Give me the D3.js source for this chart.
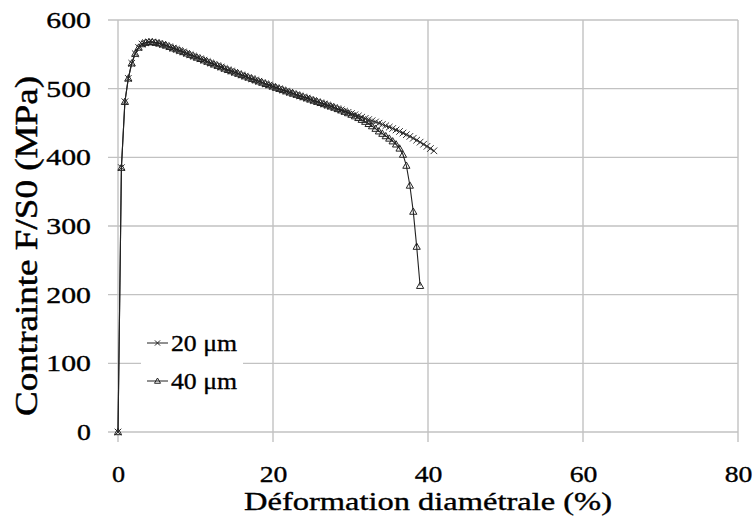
<!DOCTYPE html>
<html><head><meta charset="utf-8">
<script src="https://cdn.jsdelivr.net/npm/d3@7"></script>
<style>html,body{margin:0;padding:0;background:#fff}svg{display:block}</style>
</head><body>
<script>
// ---- data ----
const strain = [0,0.44,0.89,1.33,1.77,2.22,2.66,3.10,3.54,3.99,4.43,4.87,5.32,5.76,6.20,6.65,7.09,7.53,7.97,8.42,8.86,9.30,9.75,10.19,10.63,11.08,11.52,11.96,12.40,12.85,13.29,13.73,14.18,14.62,15.06,15.51,15.95,16.39,16.83,17.28,17.72,18.16,18.61,19.05,19.49,19.94,20.38,20.82,21.26,21.71,22.15,22.59,23.04,23.48,23.92,24.37,24.81,25.25,25.69,26.14,26.58,27.02,27.47,27.91,28.35,28.80,29.24,29.68,30.12,30.57,31.01,31.45,31.90,32.34,32.78,33.23,33.67,34.11,34.55,35.00,35.44,35.88,36.33,36.77,37.21,37.66,38.10,38.54,38.98,39.43,39.87,40.31,40.76];
const stress20 = [0,385,481,515,537,551,560,565,567,568,568,567,566,564.5,563,561,559,557.5,555.5,553.5,551.5,549.5,547.5,545.5,543.5,541.5,539.5,537.5,535.5,533.5,531.5,529.5,527.5,525.7,523.8,522,520,518.2,516.4,514.5,512.6,510.8,509,507.1,505.3,503.4,501.6,499.9,498.2,496.4,494.7,493,491.3,489.6,487.9,486.2,484.5,482.8,481.1,479.4,477.7,476,474.3,472.6,470.8,469.1,467.3,465.5,463.7,462,460.2,458.5,456.7,455,453.3,451.5,449.7,447.9,446,444,442,439.9,437.7,435.4,433,430.5,427.8,425,422.1,419.1,416,412.8,409.5];
const stress40 = [0,385,481,515,537,551,560,565,567,568,568,567,566,564.5,563,561,559,557.5,555.5,553.5,551.5,549.5,547.5,545.5,543.5,541.5,539.5,537.5,535.5,533.5,531.5,529.5,527.5,525.7,523.8,522,520,518.2,516.4,514.5,512.6,510.8,509,507.1,505.3,503.4,501.6,499.9,498.2,496.4,494.7,493,491.3,489.6,487.9,486.2,484.5,482.8,481.1,479.4,477.7,476,474.3,472.6,470.5,468.6,466.6,464.5,462.3,460,457.5,454.8,452,448.8,445.5,441.8,438,434.5,431,427.5,423.5,419,413,404,388,359,321,270,213];
const seriesNames = ["20 μm","40 μm"];
const xTicks = [0,20,40,60,80];
const yTicks = [0,100,200,300,400,500,600];
const xTitle = "Déformation diamétrale (%)";
const yTitle = "Contrainte F/S0 (MPa)";

// ---- drawing ----
const W = 756, H = 522;
const FONT = "'Liberation Serif', 'Times New Roman', serif";
const svg = d3.select("body").append("svg").attr("width", W).attr("height", H);
const x = d3.scaleLinear().domain([0, 80]).range([118, 738]);
const y = d3.scaleLinear().domain([0, 600]).range([432, 20]);
const gridCol = "#c2c2c2";
const textStyle = sel => sel.attr("font-family", FONT).attr("font-weight", "normal")
  .attr("fill", "#000").attr("stroke", "#000").attr("stroke-width", 0.35)
  .attr("lengthAdjust", "spacingAndGlyphs");

// grid lines (with outer tick extensions)
svg.append("g").selectAll("line").data(yTicks).join("line")
  .attr("x1", x(0) - 10).attr("x2", x(80))
  .attr("y1", d => y(d)).attr("y2", d => y(d))
  .attr("stroke", gridCol).attr("stroke-width", 1.4);
svg.append("g").selectAll("line").data(xTicks).join("line")
  .attr("x1", d => x(d)).attr("x2", d => x(d))
  .attr("y1", y(600)).attr("y2", y(0) + 10)
  .attr("stroke", gridCol).attr("stroke-width", 1.4);

// axes (labels only)
const yAxis = svg.append("g").attr("transform", `translate(${x(0)},0)`)
  .call(d3.axisLeft(y).tickValues(yTicks).tickSize(0).tickPadding(27));
yAxis.select(".domain").remove();
yAxis.selectAll("text").call(textStyle).attr("font-size", 22.5).attr("dy", "0.33em")
  .attr("textLength", d => String(d).length * 15.4 - 1.5);

const xAxis = svg.append("g").attr("transform", `translate(0,${y(0)})`)
  .call(d3.axisBottom(x).tickValues(xTicks).tickSize(0).tickPadding(0));
xAxis.select(".domain").remove();
xAxis.selectAll("text").call(textStyle).attr("font-size", 22.5).attr("dy", null).attr("y", 50)
  .attr("textLength", d => String(d).length * 14.6 - 1.5);

// axis titles
svg.append("text").attr("x", (x(0) + x(80)) / 2).attr("y", 510)
  .attr("text-anchor", "middle").call(textStyle).attr("font-size", 24.5)
  .attr("textLength", 368).text(xTitle);
svg.append("text").attr("transform", "translate(37,246) scale(1.4,1) rotate(-90)")
  .attr("text-anchor", "middle").call(textStyle).attr("font-size", 23)
  .attr("textLength", 340).text(yTitle);

// series
const line = d3.line().x(d => x(d[0])).y(d => y(d[1]));
const s20 = stress20.map((v, i) => [strain[i], v]);
const s40 = stress40.map((v, i) => [strain[i], v]);
const crossPath = s => `M${-s},${-s}L${s},${s}M${-s},${s}L${s},${-s}`;
const triPath = s => `M0,${-s}L${s},${s * 0.75}L${-s},${s * 0.75}Z`;

const g = svg.append("g");
g.append("path").attr("d", line(s20)).attr("fill", "none").attr("stroke", "#222").attr("stroke-width", 1.1);
g.append("g").selectAll("path").data(s20).join("path")
  .attr("transform", d => `translate(${x(d[0])},${y(d[1])})`)
  .attr("d", crossPath(3.3)).attr("stroke", "#333").attr("stroke-width", 1).attr("fill", "none");
g.append("path").attr("d", line(s40)).attr("fill", "none").attr("stroke", "#222").attr("stroke-width", 1.1);
g.append("g").selectAll("path").data(s40).join("path")
  .attr("transform", d => `translate(${x(d[0])},${y(d[1])})`)
  .attr("d", triPath(3.6)).attr("stroke", "#222").attr("stroke-width", 1).attr("fill", "none");

// legend
const leg = svg.append("g");
leg.append("rect").attr("x", 141).attr("y", 326).attr("width", 102).attr("height", 72).attr("fill", "#fff");
const legY = [343, 381];
const legMarks = [crossPath(2.6), triPath(3)];
seriesNames.forEach((n, i) => {
  leg.append("line").attr("x1", 147).attr("x2", 168).attr("y1", legY[i]).attr("y2", legY[i])
    .attr("stroke", "#222").attr("stroke-width", 1);
  leg.append("path").attr("transform", `translate(157.5,${legY[i]})`).attr("d", legMarks[i])
    .attr("stroke", "#222").attr("stroke-width", 1).attr("fill", "none");
  leg.append("text").attr("x", 171).attr("y", legY[i] + 8)
    .call(textStyle).attr("font-size", 22.5)
    .attr("textLength", 66).text(n);
});
</script>
</body></html>
